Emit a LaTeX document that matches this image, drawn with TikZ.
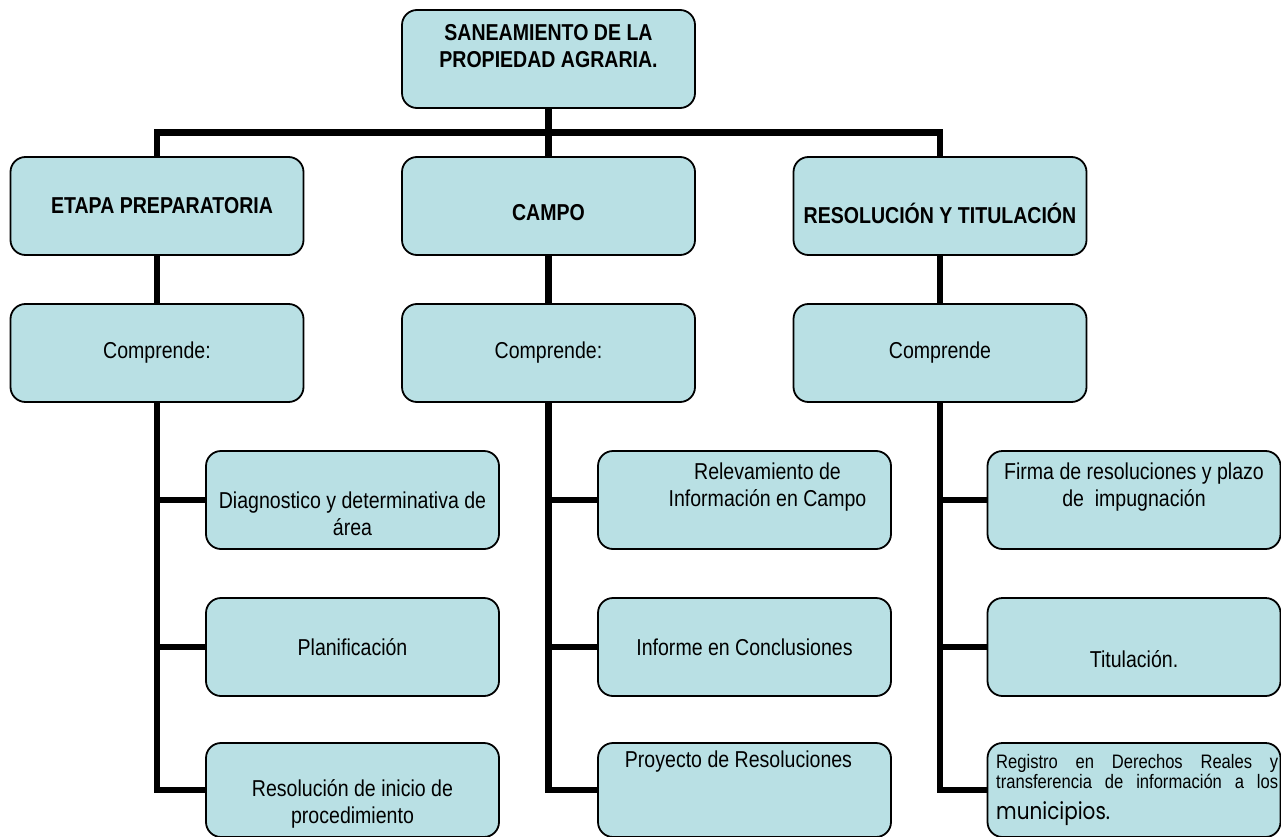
\documentclass[tikz,border=0pt]{standalone}
\usepackage{fontspec}
\setmainfont{Liberation Sans}[FakeStretch=0.85]
\newfontfamily\gotica{Poppins}[FakeStretch=0.85]
\usepackage{tikz}
\usetikzlibrary{positioning,calc}
\definecolor{celeste}{RGB}{185,224,228}

\begin{document}
\begin{tikzpicture}[x=1pt,y=-1pt,node distance=147pt,on grid,
    caja/.style={draw,fill=celeste,line width=1.8pt,rounded corners=15pt,
      minimum width=293pt,minimum height=98pt,inner sep=0pt},
    texto/.style={align=center,inner sep=0pt,font=\fontsize{23}{27}\selectfont},
    titulo/.style={texto,font=\fontsize{23}{27}\selectfont\bfseries},
    linea/.style={line width=6.5pt}]
  \useasboundingbox (0,0) rectangle (1281,837);
  % cabeceras
  \node [caja] (raiz) at (548.5,59) {};
  \node [caja, below=of raiz] (campo) {};
  \node [caja, left=391.5pt of campo] (etapa) {};
  \node [caja, right=391.5pt of campo] (resol) {};
  \node [caja, below=of etapa] (comp_1) {};
  \node [caja, below=of campo] (comp_2) {};
  \node [caja, below=of resol] (comp_3) {};
  % hijos
  \node [caja, below right=147pt and 195.5pt of comp_1] (d_1) {};
  \node [caja, below=of d_1] (d_2) {};
  \node [caja, below=143pt of d_2, minimum height=94pt] (d_3) {};
  \node [caja, below right=147pt and 196pt of comp_2] (c_1) {};
  \node [caja, below=of c_1] (c_2) {};
  \node [caja, below=143pt of c_2, minimum height=94pt] (c_3) {};
  \node [caja, below right=147pt and 194pt of comp_3] (r_1) {};
  \node [caja, below=of r_1] (r_2) {};
  \node [caja, below=143pt of r_2, minimum height=94pt] (r_3) {};
  % textos
  \node [titulo] (raiz_t) at ([yshift=12.5pt]raiz.center) {SANEAMIENTO DE LA\\PROPIEDAD AGRARIA.};
  \node [titulo] (etapa_t) at ([xshift=5pt]etapa.center) {ETAPA PREPARATORIA};
  \node [titulo] (campo_t) at ([yshift=-7pt]campo.center) {CAMPO};
  \node [titulo] (resol_t) at ([yshift=-7pt]resol.center) {RESOLUCIÓN Y TITULACIÓN};
  \node [texto] (comp_1_t) at (comp_1) {Comprende:};
  \node [texto] (comp_2_t) at (comp_2) {Comprende:};
  \node [texto] (comp_3_t) at (comp_3) {Comprende};
  \node [texto] (d_1_t) at ([yshift=-14pt]d_1.center) {Diagnostico y determinativa de\\área};
  \node [texto] (d_2_t) at (d_2) {Planificación};
  \node [texto] (d_3_t) at ([yshift=-14pt]d_3.center) {Resolución de inicio de\\procedimiento};
  \node [texto] (c_1_t) at ([xshift=23pt,yshift=13pt]c_1.center) {Relevamiento de\\Información en Campo};
  \node [texto] (c_2_t) at (c_2) {Informe en Conclusiones};
  \node [texto] (c_3_t) at ([xshift=-6pt,yshift=28pt]c_3.center) {Proyecto de Resoluciones};
  \node [texto] (r_1_t) at ([yshift=12.5pt]r_1.center) {Firma de resoluciones y plazo\\de\ \ impugnación};
  \node [texto] (r_2_t) at ([yshift=-12pt]r_2.center) {Titulación.};
  \node [texto, anchor=north west, text width=282pt, align=justify,
    font=\fontsize{19.5}{20}\selectfont] (r_3_t) at ([xshift=9.4pt,yshift=-11.9pt]r_3.north west)
    {\hbadness=10000 Registro en Derechos Reales y\linebreak transferencia de información a los\linebreak
     \rule{0pt}{30pt}{\gotica\fontsize{23.5}{20}\selectfont municipios.}};
  % conectores
  \coordinate (bus) at ($(raiz.south)!.5!(campo.north)$);
  \draw [linea] (raiz) -- (campo);
  \draw [linea] (etapa) |- (bus) -| (resol);
  \draw [linea] (etapa) -- (comp_1);
  \draw [linea] (campo) -- (comp_2);
  \draw [linea] (resol) -- (comp_3);
  \draw [linea] (comp_1) |- (d_1) (comp_1) |- (d_2) (comp_1) |- (d_3);
  \draw [linea] (comp_2) |- (c_1) (comp_2) |- (c_2) (comp_2) |- (c_3);
  \draw [linea] (comp_3) |- (r_1) (comp_3) |- (r_2) (comp_3) |- (r_3);
\end{tikzpicture}
\end{document}
